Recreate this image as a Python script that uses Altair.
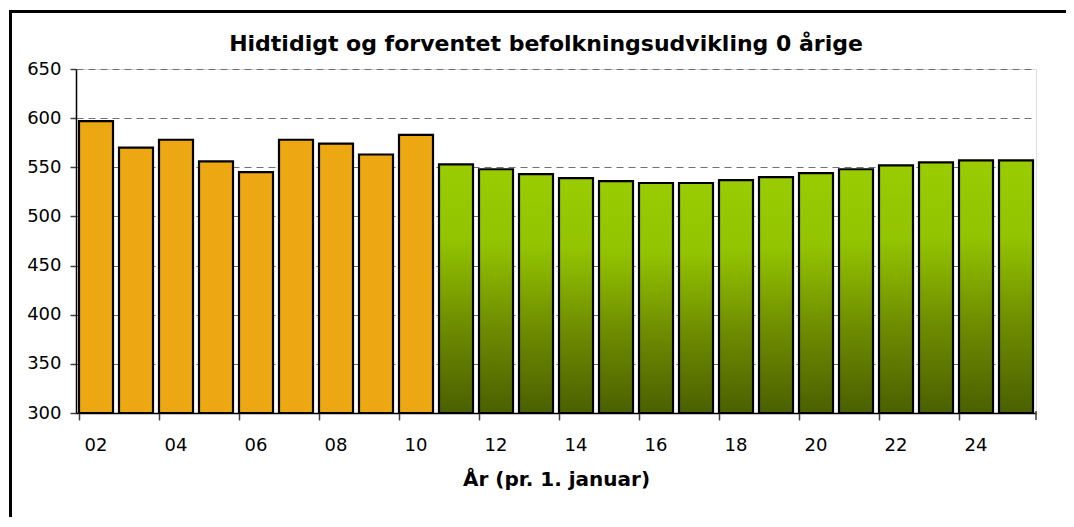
import altair as alt
import pandas as pd

years = ["02", "03", "04", "05", "06", "07", "08", "09", "10", "11", "12", "13",
         "14", "15", "16", "17", "18", "19", "20", "21", "22", "23", "24", "25"]
values = [597, 570, 578, 556, 545, 578, 574, 563, 583,
          553, 548, 543, 539, 536, 534, 534, 537, 540, 544, 548, 552, 555, 557, 557]
kind = ["hist"] * 9 + ["prog"] * 15
tick_labels = ["02", "04", "06", "08", "10", "12", "14", "16", "18", "20", "22", "24"]
y_ticks = [300, 350, 400, 450, 500, 550, 600, 650]
title_text = "Hidtidigt og forventet befolkningsudvikling 0 årige"

df = pd.DataFrame({"aar": years, "antal": values, "type": kind})

FONT = "DejaVu Sans"
W, H = 960, 344

x_enc = alt.X(
    "aar:N", sort=years,
    scale=alt.Scale(paddingInner=0.15, paddingOuter=0.075),
    axis=alt.Axis(
        values=tick_labels, bandPosition=0, labelOffset=0, labelAngle=0,
        title="År (pr. 1. januar)", titleFont=FONT, titleFontSize=20,
        titleFontWeight="bold", titleColor="black", titlePadding=15,
        labelFont=FONT, labelFontSize=18, labelColor="black", labelPadding=16,
        tickSize=7, tickColor="#404040", tickWidth=1.5,
        domainColor="black", domainWidth=1.5, grid=False,
    ),
)
y_enc = alt.Y(
    "antal:Q",
    scale=alt.Scale(domain=[300, 650], nice=False, zero=False),
    axis=alt.Axis(
        values=y_ticks, title=None, labelFont=FONT, labelFontSize=18,
        labelColor="black", labelPadding=9, tickSize=6, tickColor="#404040",
        tickWidth=1.5, domainColor="black", domainWidth=1.5,
        grid=True, gridColor="#707070", gridDash=[7, 5], gridWidth=1,
    ),
)

base = alt.Chart(df)

orange = base.transform_filter(alt.datum.type == "hist").mark_bar(
    fill="#EDA712", stroke="black", strokeWidth=2.2
).encode(x=x_enc, y=y_enc, y2=alt.datum(300))

green_grad = alt.LinearGradient(
    gradient="linear",
    stops=[
        alt.GradientStop(color="#99CC00", offset=0),
        alt.GradientStop(color="#93C400", offset=0.3),
        alt.GradientStop(color="#6E8C00", offset=0.65),
        alt.GradientStop(color="#4A6000", offset=1),
    ],
    x1=0, x2=0, y1=0, y2=1,
)
green = base.transform_filter(alt.datum.type == "prog").mark_bar(
    fill=green_grad, stroke="black", strokeWidth=2.2
).encode(x=x_enc, y=y_enc, y2=alt.datum(300))

end_tick = alt.Chart(pd.DataFrame({"a": [0]})).mark_rule(
    color="#404040", strokeWidth=1.5
).encode(x=alt.value(W), y=alt.value(H - 2), y2=alt.value(H + 7))

frame = alt.Chart(pd.DataFrame({"a": [0]})).mark_rect(
    filled=False, stroke="black", strokeWidth=3
).encode(
    x=alt.value(-65.5), x2=alt.value(1100), y=alt.value(-57.5), y2=alt.value(700)
)

title = alt.Chart(pd.DataFrame({"t": [title_text]})).mark_text(
    font=FONT, fontSize=22, fontWeight="bold", color="black",
    align="center", baseline="middle"
).encode(text="t:N", x=alt.value(470), y=alt.value(-25))

chart = alt.layer(orange, green, end_tick, frame, title).properties(
    width=W, height=H,
    padding={"left": 68, "top": 61, "right": 30, "bottom": 104},
    autosize=alt.AutoSizeParams(type="none"),
).configure_view(
    fill="#E6EAF2", stroke="#707070", strokeDash=[7, 5], strokeWidth=1
).configure(background="white")

chart.save("out.html", embed_options={"renderer": "svg", "actions": False})
